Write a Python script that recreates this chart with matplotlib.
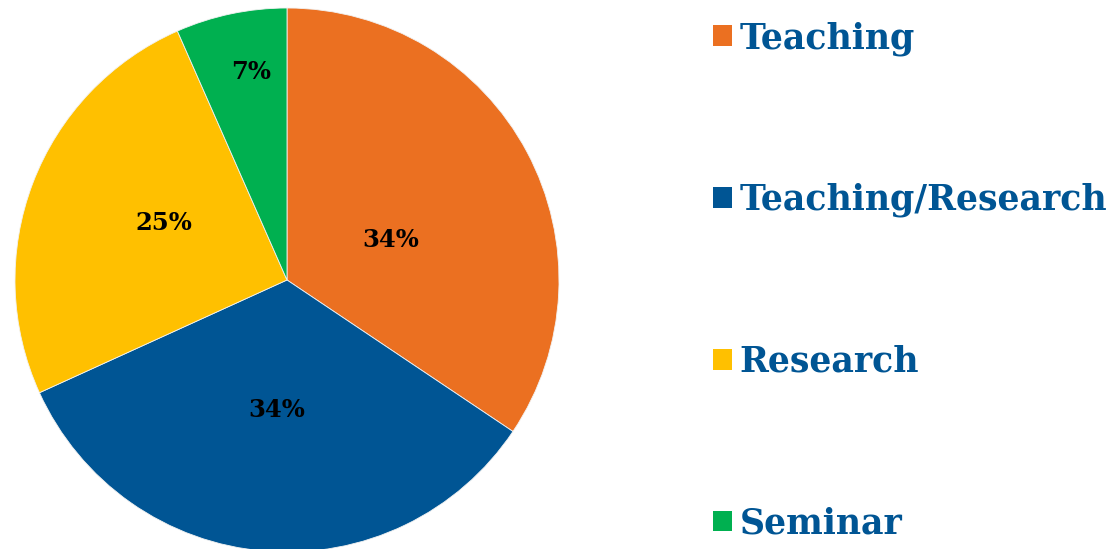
import numpy as np
import matplotlib.pyplot as plt
from matplotlib.patches import Patch

# parts du temps par activité
categories = ["Teaching", "Teaching/Research", "Research", "Seminar"]
shares = [34.4, 33.8, 25.2, 6.6]
colors = ["#EB7021", "#005594", "#FFC000", "#00B050"]
label_radius = [0.41, 0.48, 0.50, 0.775]
label_shift = [-7, 0, -4, -2]  # décalage angulaire des étiquettes (degrés)

plt.rcParams['font.family'] = ['DejaVu Serif']

fig = plt.figure(figsize=(11.16, 5.49), dpi=100)
W, H = 1116, 549
cx, cy, r = 287, 280, 272
ax = fig.add_axes([(cx - r) / W, (H - cy - r) / H, 2 * r / W, 2 * r / H])

wedges, _ = ax.pie(shares, colors=colors, startangle=90, counterclock=False,
                   wedgeprops=dict(edgecolor="#f2f2f2", linewidth=0.6))
ax.set_xlim(-1, 1)
ax.set_ylim(-1, 1)
ax.set_aspect("equal")
ax.axis("off")

# étiquettes en pourcentage
for w, val, rad, sh in zip(wedges, shares, label_radius, label_shift):
    mid = np.deg2rad((w.theta1 + w.theta2) / 2 + sh)
    ax.text(rad * np.cos(mid), rad * np.sin(mid), f"{val:.0f}%",
            ha="center", va="center", fontsize=17.5, fontweight="bold", color="black")

handles = [Patch(facecolor=c, edgecolor="none") for c in colors]
leg = fig.legend(handles, categories, loc="upper left", bbox_to_anchor=(713 / W, 1 - 21 / H),
                 frameon=False, labelcolor="#005594",
                 handlelength=0.55, handleheight=0.55, handletextpad=0.22,
                 labelspacing=3.67, borderpad=0, borderaxespad=0,
                 prop=dict(weight="bold", size=25))

fig.savefig("out.png", dpi=100)
